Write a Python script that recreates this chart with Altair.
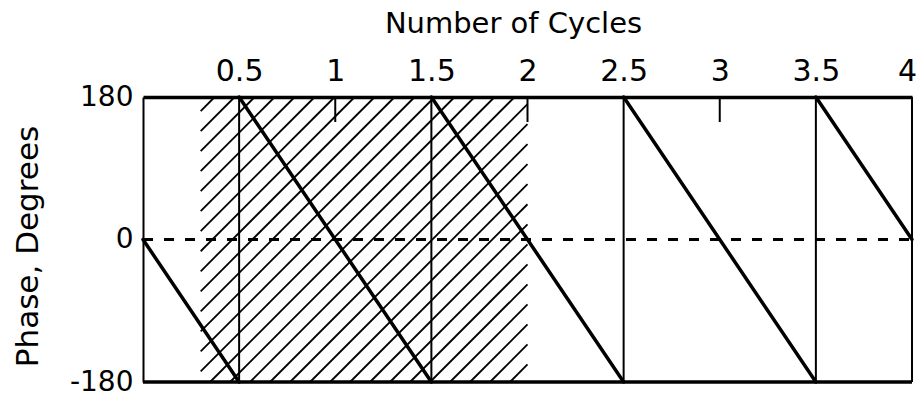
import altair as alt
import pandas as pd

# Sawtooth phase segments: phase falls 360 degrees per cycle, wrapping at +/-180
seg_cycle_start = [0.0, 0.5, 1.5, 2.5, 3.5]
seg_phase_start = [0, 180, 180, 180, 180]
seg_cycle_end = [0.5, 1.5, 2.5, 3.5, 4.0]
seg_phase_end = [-180, -180, -180, -180, 0]

# Wrap points (vertical jumps from -180 back to +180)
wrap_cycles = [0.5, 1.5, 2.5, 3.5]

# Short inward ticks on the top axis
inner_tick_cycles = [1, 2, 3]

# Top axis labels and left axis labels
cycle_ticks = [0.5, 1, 1.5, 2, 2.5, 3, 3.5, 4]
phase_ticks = [-180, 0, 180]

# Hatched band
hatch_start = 0.3
hatch_end = 2.0
hatch_spacing = 0.104   # cycles between stripes along the bottom edge
hatch_run = 1.48        # cycles a stripe advances over the full phase range
hatch_anchor = 1.493    # a stripe meets the bottom edge here

FONT = "DejaVu Sans"

saw = pd.DataFrame({
    "x": seg_cycle_start, "y": seg_phase_start,
    "x2": seg_cycle_end, "y2": seg_phase_end,
})

rows = []
for k in range(-40, 40):
    xb = hatch_anchor + k * hatch_spacing
    x_lo = max(xb, hatch_start)
    x_hi = min(xb + hatch_run, hatch_end)
    if x_hi <= x_lo:
        continue
    p_lo = (x_lo - xb) / hatch_run * 360 - 180
    p_hi = (x_hi - xb) / hatch_run * 360 - 180
    rows.append({"x": x_lo, "y": p_lo, "x2": x_hi, "y2": p_hi})
hatch = pd.DataFrame(rows)

xscale = alt.Scale(domain=[0, 4], nice=False, zero=False)
yscale = alt.Scale(domain=[-180, 180], nice=False, zero=False)

x_axis = alt.Axis(
    orient="top", values=cycle_ticks, labelExpr="datum.value + ''",
    ticks=False, tickSize=0, grid=False,
    domain=True, domainColor="black", domainWidth=3.5,
    labelFont=FONT, labelFontSize=30, labelColor="black",
    labelBaseline="alphabetic", labelPadding=17,
    labelOffset={"condition": {"test": "datum.value == 4", "value": -5}, "value": 0},
    labelOverlap=False, labelBound=False, labelFlush=False,
    title="Number of Cycles", titleFont=FONT, titleFontSize=29,
    titleFontWeight="normal", titleColor="black",
    titleX=370, titleY=-65, titleAlign="center",
    titleBaseline="alphabetic",
)
y_axis = alt.Axis(
    orient="left", values=phase_ticks, labelExpr="datum.value + ''",
    ticks=False, tickSize=0, grid=False,
    domain=True, domainColor="black", domainWidth=2,
    labelFont=FONT, labelFontSize=28, labelColor="black",
    labelBaseline="middle", labelAlign="right", labelPadding=10,
    labelOverlap=False, labelBound=False, labelFlush=False,
    title="Phase, Degrees", titleFont=FONT, titleFontSize=31,
    titleFontWeight="normal", titleColor="black",
    titleAngle=270, titleX=-106, titleY=149, titleAlign="center",
    titleBaseline="alphabetic",
)

X = alt.X("x:Q", scale=xscale, axis=x_axis, title="Number of Cycles")
Y = alt.Y("y:Q", scale=yscale, axis=y_axis, title="Phase, Degrees")

hatch_layer = alt.Chart(hatch).mark_rule(color="black", strokeWidth=1.8).encode(
    x=X, y=Y, x2="x2:Q", y2="y2:Q",
)

zero_line = alt.Chart(pd.DataFrame({"x": [0.0], "x2": [4.0], "y": [0]})).mark_rule(
    color="black", strokeWidth=3, strokeDash=[10, 11]
).encode(x=X, x2="x2:Q", y=Y)

wraps = alt.Chart(pd.DataFrame({"x": wrap_cycles})).mark_rule(
    color="black", strokeWidth=2
).encode(x=X)

inner_ticks = alt.Chart(pd.DataFrame({"x": inner_tick_cycles})).mark_rule(
    color="black", strokeWidth=2
).encode(x=X, y=alt.value(0), y2=alt.value(25))

right_border = alt.Chart(pd.DataFrame({"x": [4.0]})).mark_rule(
    color="black", strokeWidth=2
).encode(x=X)

bottom_border = alt.Chart(pd.DataFrame({"y": [-180]})).mark_rule(
    color="black", strokeWidth=3.5
).encode(y=Y)

saw_layer = alt.Chart(saw).mark_rule(
    color="black", strokeWidth=3.5, strokeCap="round"
).encode(x=X, y=Y, x2="x2:Q", y2="y2:Q")

chart = alt.layer(
    hatch_layer, zero_line, wraps, inner_ticks, right_border, bottom_border, saw_layer
).properties(
    width=769, height=285,
    autosize=alt.AutoSizeParams(type="none"),
    padding={"left": 143, "top": 97, "right": 6, "bottom": 15},
    background="white",
).configure_view(stroke=None)

chart.save("out.html", embed_options={"renderer": "svg", "actions": False})
